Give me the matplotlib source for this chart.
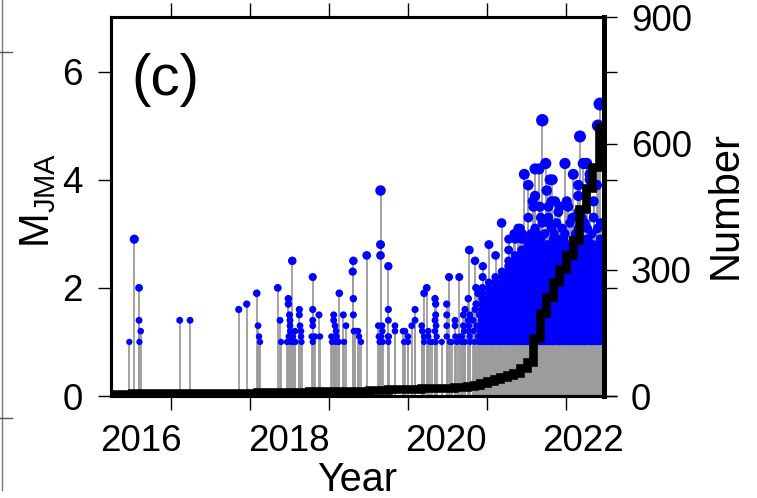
import numpy as np
import pandas as pd
import matplotlib
matplotlib.use("Agg")
import matplotlib.pyplot as plt
from matplotlib.lines import Line2D
from matplotlib.ticker import FixedLocator, FixedFormatter, NullFormatter

plt.rcParams['font.family'] = ['Liberation Sans', 'DejaVu Sans']
plt.rcParams['mathtext.fontset'] = 'custom'
plt.rcParams['mathtext.rm'] = 'Liberation Sans'

# ---------------------------------------------------------------------------
# Individually resolved events before the swarm (decimal year, M_JMA)
quake_year = [
    2016.472, 2016.535, 2016.595, 2016.595, 2016.616, 2016.600,
    2017.110, 2017.241, 2017.857, 2017.958,
    2018.085, 2018.101, 2018.114, 2018.127,
    2018.351, 2018.380, 2018.392,
    2018.468, 2018.485, 2018.485, 2018.490, 2018.500, 2018.506, 2018.506,
    2018.510, 2018.519, 2018.535, 2018.544, 2018.557, 2018.570, 2018.575,
    2018.624, 2018.624, 2018.633, 2018.646, 2018.646, 2018.652,
    2018.781, 2018.794, 2018.794, 2018.794, 2018.794, 2018.794, 2018.823,
    2018.873, 2018.886,
    2019.030, 2019.038, 2019.059, 2019.059, 2019.076, 2019.089, 2019.089,
    2019.095, 2019.123, 2019.130, 2019.181, 2019.190, 2019.215,
    2019.300, 2019.308, 2019.308, 2019.308, 2019.315, 2019.329, 2019.367,
    2019.380, 2019.405, 2019.477,
    2019.624, 2019.630, 2019.640, 2019.652, 2019.652, 2019.652, 2019.660,
    2019.671, 2019.675, 2019.680,
    2019.751, 2019.751, 2019.751, 2019.745, 2019.758, 2019.751,
    2019.835, 2019.835, 2019.937, 2019.950, 2019.962,
    2020.000, 2020.000, 2020.047, 2020.089, 2020.089, 2020.173, 2020.180,
    2020.203, 2020.203, 2020.203, 2020.237, 2020.257, 2020.257, 2020.278,
    2020.304,
    2020.342, 2020.350, 2020.350, 2020.342, 2020.355, 2020.342, 2020.363,
    2020.350, 2020.427,
    2020.490, 2020.490, 2020.490, 2020.490, 2020.519, 2020.553, 2020.530,
    2020.595, 2020.595, 2020.600, 2020.620, 2020.649, 2020.660, 2020.680,
    2020.680,
    2020.700, 2020.722, 2020.700, 2020.710, 2020.722, 2020.763, 2020.776,
    2020.763, 2020.770, 2020.780, 2020.785, 2020.770, 2020.785,
    2020.823, 2020.830, 2020.848, 2020.848, 2020.840, 2020.861, 2020.861,
    2020.870, 2020.886, 2020.886, 2020.895, 2020.905, 2020.911,
]
quake_mag = [
    1.0, 2.9, 2.0, 1.4, 1.2, 1.0,
    1.4, 1.4, 1.6, 1.7,
    1.9, 1.3, 1.1, 1.0,
    2.0, 1.4, 1.0,
    1.0, 1.8, 1.7, 1.1, 1.5, 1.4, 1.3,
    1.2, 1.0, 2.5, 1.1, 1.0, 1.2, 1.0,
    1.6, 1.5, 1.3, 1.2, 1.1, 1.0,
    1.1, 2.2, 1.6, 1.4, 1.3, 1.0, 1.1,
    1.5, 1.1,
    1.1, 1.0, 1.5, 1.4, 1.3, 1.2, 1.0,
    1.1, 1.0, 1.9, 1.5, 1.0, 1.3,
    2.3, 2.5, 1.8, 1.5, 1.2, 1.2, 1.2,
    1.1, 1.0, 2.6,
    1.3, 1.1, 1.0, 3.8, 2.8, 2.6, 1.1,
    1.3, 1.2, 1.0,
    2.4, 1.6, 1.4, 1.1, 1.1, 1.0,
    1.3, 1.2, 1.2, 1.0, 1.2,
    1.0, 1.1, 1.3, 1.6, 1.4, 1.3, 1.2,
    1.9, 1.1, 1.0, 2.0, 1.2, 1.1, 1.0,
    1.0,
    1.8, 1.7, 1.5, 1.4, 1.3, 1.2, 1.1,
    1.0, 1.0,
    1.7, 1.5, 1.3, 1.1, 2.2, 1.0, 1.0,
    1.4, 1.3, 1.1, 1.0, 2.2, 1.1, 1.0,
    1.1,
    1.5, 1.6, 1.3, 1.2, 1.0, 1.8, 2.7,
    1.4, 1.2, 1.1, 1.0, 1.3, 1.5,
    1.4, 1.2, 2.5, 1.6, 1.0, 2.0, 1.7,
    1.3, 1.9, 1.1, 1.0, 1.5, 1.2,
]

# Swarm months: number of events in each 0.1 magnitude bin (M1.0 ... M2.9)
swarm_bins = [1.0, 1.1, 1.2, 1.3, 1.4, 1.5, 1.6, 1.7, 1.8, 1.9,
              2.0, 2.1, 2.2, 2.3, 2.4, 2.5, 2.6, 2.7, 2.8, 2.9]
swarm_month = ['2020-12', '2021-01', '2021-02', '2021-03', '2021-04',
               '2021-05', '2021-06', '2021-07', '2021-08', '2021-09',
               '2021-10', '2021-11', '2021-12', '2022-01', '2022-02',
               '2022-03', '2022-04', '2022-05', '2022-06']
swarm_counts = [
    [5, 5, 4, 4, 3, 3, 2, 2, 2, 1, 1, 0, 1, 0, 1, 0, 0, 0, 0, 0],
    [6, 6, 5, 5, 4, 4, 3, 3, 2, 2, 1, 1, 0, 0, 0, 0, 0, 0, 1, 0],
    [6, 6, 5, 5, 4, 4, 3, 3, 2, 2, 2, 1, 1, 0, 0, 0, 1, 0, 0, 0],
    [7, 6, 6, 5, 5, 4, 4, 3, 3, 2, 2, 1, 2, 1, 0, 0, 0, 0, 0, 0],
    [7, 6, 6, 5, 5, 4, 4, 3, 3, 3, 2, 2, 2, 1, 1, 1, 0, 1, 0, 1],
    [7, 7, 6, 6, 5, 5, 4, 4, 3, 3, 3, 2, 2, 2, 1, 1, 1, 0, 0, 1],
    [8, 7, 7, 6, 6, 5, 5, 4, 4, 3, 3, 3, 2, 2, 2, 1, 1, 1, 0, 1],
    [9, 8, 8, 7, 7, 6, 6, 5, 5, 4, 4, 3, 3, 2, 2, 2, 1, 1, 1, 0],
    [10, 9, 9, 8, 8, 7, 7, 6, 6, 5, 5, 4, 4, 3, 3, 2, 2, 1, 1, 1],
    [12, 11, 10, 9, 9, 8, 8, 7, 6, 6, 5, 5, 4, 4, 3, 3, 2, 2, 1, 1],
    [11, 10, 10, 9, 8, 8, 7, 7, 6, 5, 5, 4, 4, 3, 3, 2, 2, 1, 1, 0],
    [11, 10, 9, 9, 8, 7, 7, 6, 6, 5, 5, 4, 4, 3, 3, 2, 2, 2, 1, 1],
    [10, 10, 9, 8, 8, 7, 6, 6, 5, 5, 4, 4, 4, 3, 3, 2, 2, 1, 1, 1],
    [11, 10, 9, 9, 8, 7, 7, 6, 6, 5, 5, 4, 4, 3, 3, 3, 2, 1, 1, 0],
    [11, 10, 10, 9, 8, 8, 7, 6, 6, 5, 5, 4, 4, 3, 3, 2, 2, 2, 1, 1],
    [13, 12, 11, 10, 9, 9, 8, 7, 7, 6, 5, 5, 4, 4, 3, 3, 2, 2, 1, 1],
    [12, 11, 10, 10, 9, 8, 8, 7, 6, 6, 5, 5, 4, 4, 3, 2, 2, 1, 1, 1],
    [12, 11, 10, 9, 9, 8, 7, 7, 6, 5, 5, 4, 4, 3, 3, 3, 2, 2, 1, 0],
    [12, 11, 10, 9, 8, 8, 7, 6, 6, 5, 5, 4, 4, 3, 3, 2, 2, 1, 1, 1],
]

# Larger swarm events (M >= 3.0)
large_year = [
    2021.185, 2021.342, 2021.393, 2021.418, 2021.472, 2021.523, 2021.523,
    2021.578, 2021.608, 2021.608, 2021.587, 2021.658, 2021.670, 2021.608,
    2021.700, 2021.700, 2021.743, 2021.756, 2021.777, 2021.777, 2021.797,
    2021.827, 2021.818, 2021.861, 2021.818, 2021.880, 2021.903, 2021.924,
    2021.987, 2022.009, 2022.029, 2021.987, 2022.080, 2022.092, 2022.156,
    2022.156, 2022.156, 2022.156, 2022.177, 2022.219, 2022.240, 2022.262,
    2022.304, 2022.304, 2022.350, 2022.350, 2022.388, 2022.405, 2022.430,
    2022.440,
    2021.450, 2021.560, 2021.630, 2021.680, 2021.730, 2021.790, 2021.850,
    2021.950, 2022.050, 2022.120, 2022.200, 2022.270, 2022.330, 2022.400,
    2021.540, 2021.640, 2021.840, 2021.970, 2022.110, 2022.280,
]
large_mag = [
    3.2, 3.0, 3.1, 3.1, 4.1, 3.9, 3.3,
    3.6, 4.2, 3.7, 3.5, 4.2, 3.5, 3.1,
    5.1, 3.2, 4.3, 3.8, 3.5, 3.3, 4.0,
    4.0, 3.6, 3.6, 3.1, 3.2, 3.4, 3.5,
    4.3, 3.6, 3.5, 3.0, 3.3, 4.1, 3.9,
    3.7, 3.4, 3.1, 4.8, 4.3, 3.2, 4.3,
    4.1, 4.0, 3.3, 3.6, 3.9, 5.0, 5.4,
    3.2,
    3.0, 3.0, 3.0, 3.3, 3.0, 3.2, 3.0,
    3.1, 3.2, 3.0, 3.3, 3.1, 3.0, 3.1,
    2.9, 2.9, 2.9, 2.9, 2.9, 2.9,
]

# Cumulative number of events, one value per month from March 2016
cum_first_month = '2016-03'
cum_count = [
    4, 4, 4, 5, 6, 6, 6, 6, 6, 6,
    7, 7, 7, 7, 7, 7, 7, 7, 7, 8, 8, 8,
    8, 9, 9, 9, 9, 10, 10, 10, 10, 11, 11, 11,
    12, 12, 12, 12, 13, 13, 14, 15, 15, 16, 16, 16,
    17, 17, 18, 18, 19, 19, 20, 21, 22, 24, 27, 31,
    36, 40, 44, 49, 55, 66, 80, 138, 197, 235, 270, 303,
    336, 372, 445, 495, 545, 640,
]

# Axis annotations
mag_ticks = [0, 2, 4, 6]
num_ticks = [0, 300, 600, 900]
year_ticks = [2017, 2018, 2019, 2020, 2021, 2022]
year_labels = ['2016', '2018', '2020', '2022']
year_label_pos = [2016.62, 2018.49, 2020.48, 2022.22]


def month_start(period):
    return period.year + (period.month - 1) / 12.0


# Expand the binned swarm counts into events spread through each month
swarm_t, swarm_m = [], []
for label, row in zip(swarm_month, swarm_counts):
    t0 = month_start(pd.Period(label, freq='M'))
    mags = []
    for r in range(max(row)):
        for b, c in zip(swarm_bins, row):
            if c > r:
                mags.append(b)
    n = len(mags)
    for k, m in enumerate(mags):
        swarm_t.append(t0 + (k + 0.5) / n / 12.0)
        swarm_m.append(m)

t_all = np.array(quake_year + swarm_t + large_year)
m_all = np.array(quake_mag + swarm_m + large_mag)

months = pd.period_range(cum_first_month, periods=len(cum_count) + 1, freq='M')
cum_edges = np.array([month_start(p) for p in months])

# ---------------------------------------------------------------------------
W, H = 757, 498
fig = plt.figure(figsize=(W / 100, H / 100), dpi=100)
ax = fig.add_axes([111 / W, 1 - 396 / H, 493 / W, 378.5 / H])

ax.vlines(t_all, 0, m_all, colors='#9c9c9c', linewidth=1.3, zorder=2)
dot_px = 4.8 + 1.5 * m_all
ax.scatter(t_all, m_all, s=(dot_px * 0.72) ** 2, c='#0000ff',
           edgecolors='none', zorder=3)

ax.set_xlim(2016.24, 2022.481)
ax.set_ylim(0, 7)

ax2 = ax.twinx()
ax2.stairs(cum_count, cum_edges, baseline=None, color='black',
           linewidth=6.2, zorder=5)
ax2.set_ylim(0, 900)

tick_kw = dict(direction='out', length=9.5, width=1.0, labelsize=26.5)
ax.set_yticks(mag_ticks)
ax.tick_params(axis='y', left=True, right=True, pad=11, **tick_kw)
ax.xaxis.set_major_locator(FixedLocator(year_ticks))
ax.xaxis.set_major_formatter(NullFormatter())
ax.xaxis.set_minor_locator(FixedLocator(year_label_pos))
ax.xaxis.set_minor_formatter(FixedFormatter(year_labels))
ax.tick_params(axis='x', which='major', top=True, bottom=True,
               direction='out', length=10, width=1.0)
ax.tick_params(axis='x', which='minor', length=0, labelsize=26.5, pad=20)

ax2.set_yticks(num_ticks)
ax2.tick_params(axis='y', pad=10, **tick_kw)

for a in (ax, ax2):
    for s in a.spines.values():
        s.set_linewidth(2.2)
ax2.spines['right'].set_linewidth(3.6)

fig.text(38 / W, 1 - 200 / H, r'$\mathregular{M_{JMA}}$', rotation=90,
         ha='center', va='center', fontsize=30)
fig.text(726 / W, 1 - 205 / H, 'Number', rotation=90,
         ha='center', va='center', fontsize=30)
fig.text(357 / W, 1 - 491 / H, 'Year', ha='center', va='baseline',
         fontsize=28.5)
fig.text(131 / W, 1 - 95 / H, '(c)', ha='left', va='baseline', fontsize=42)

# neighbouring panel edge on the left margin
fig.add_artist(Line2D([1.5 / W, 1.5 / W], [1 - 490 / H, 1.0],
                      transform=fig.transFigure, color='#777777', lw=1.0))
for yy in (52, 418):
    fig.add_artist(Line2D([0, 12 / W], [1 - yy / H, 1 - yy / H],
                          transform=fig.transFigure, color='#555555', lw=1.0))

fig.savefig('out.png', dpi=100)
